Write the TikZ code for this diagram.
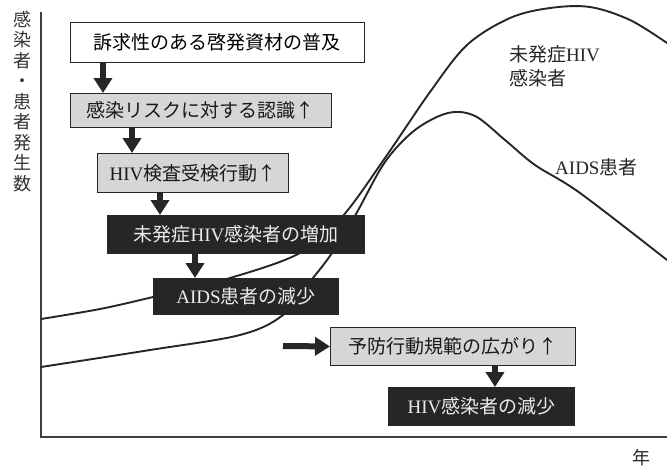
\documentclass[tikz,border=0pt]{standalone}
\usepackage{fontspec}
\setmainfont{Liberation Serif}
\newfontfamily\jp{Noto Sans CJK JP}
\usetikzlibrary{arrows.meta}
\tikzset{
  curve/.style={line width=1.9pt, black!85, line join=round, line cap=round},
  axisline/.style={line width=1.3pt, black!75},
  boxbase/.style={draw=black!85, line width=0.9pt, inner sep=0pt, anchor=north west,
    font=\fontsize{19}{21}\selectfont},
  wbox/.style={boxbase, fill=white, text=black},
  gbox/.style={boxbase, fill=black!16, text=black!90},
  kbox/.style={boxbase, fill=black!85, draw=black!85, text=black!8},
  barrow/.style={line width=6pt, black!85, -{Triangle[width=18pt,length=15pt]}},
  lbl/.style={font=\fontsize{19}{24}\selectfont, text=black!85, inner sep=0pt},
}
\begin{document}
\begin{tikzpicture}[x=1pt,y=-1pt]
\useasboundingbox (0,0) rectangle (667,469);
% axes
\coordinate (ytop) at (41,12);
\coordinate (orig) at (41,437);
\coordinate (xend) at (667,437);
\draw[axisline] (ytop) -- (orig) -- (xend);
\node[font=\fontsize{18}{20.5}\selectfont, text=black!80, align=center, anchor=north, inner sep=0pt] (ylab) at (22,11)
  {\jp 感\\\jp 染\\\jp 者\\\jp ・\\\jp 患\\\jp 者\\\jp 発\\\jp 生\\\jp 数};
\node[lbl, font=\fontsize{18}{20}\selectfont] (xlab) at (641,458) {\jp 年};
% curves
\draw[curve] plot[smooth, tension=0.55] coordinates {(41,319) (100,309) (153,297) (230,278) (300,253) (342,217) (385,158) (430,92) (467,45) (510,18) (550,8) (590,7) (630,20) (667,43)};
\draw[curve] plot[smooth, tension=0.55] coordinates {(41,367) (150,350) (240,335) (283,315) (313,278) (332,253) (356,214) (385,162) (415,130) (448,113) (475,116) (505,140) (535,165) (580,193) (667,260)};
% curve labels
\node[lbl, anchor=west] (lhiv1) at (509,54) {{\jp 未発症}HIV};
\node[lbl, anchor=west] (lhiv2) at (509,78) {\jp 感染者};
\node[lbl, anchor=west] (laids) at (555,167) {AIDS{\jp 患者}};
% boxes
\node[wbox, minimum width=294pt, minimum height=40pt] (b1) at (70,22) {\jp 訴求性のある啓発資材の普及};
\node[gbox, minimum width=261pt, minimum height=34pt] (b2) at (70,93) {\jp 感染リスクに対する認識↑};
\node[gbox, minimum width=191pt, minimum height=39pt] (b3) at (97,153) {HIV{\jp 検査受検行動↑}};
\node[kbox, minimum width=257pt, minimum height=38pt] (b4) at (107,215) {{\jp 未発症}HIV{\jp 感染者の増加}};
\node[kbox, minimum width=185pt, minimum height=36pt] (b5) at (153,278) {AIDS{\jp 患者の減少}};
\node[gbox, minimum width=245pt, minimum height=38pt] (b6) at (330,327) {\jp 予防行動規範の広がり↑};
\node[kbox, minimum width=186pt, minimum height=38pt] (b7) at (388,387) {HIV{\jp 感染者の減少}};
% arrows
\coordinate (a5s) at (283,346);
\draw[barrow] ([xshift=33pt]b1.south west) -- ([xshift=33pt]b2.north west);
\draw[barrow] ([xshift=62pt]b2.south west) -- ([xshift=35pt]b3.north west);
\draw[barrow] ([xshift=63pt]b3.south west) -- ([xshift=53pt]b4.north west);
\draw[barrow] ([xshift=88pt]b4.south west) -- ([xshift=42pt]b5.north west);
\draw[barrow] (a5s) -- (b6.west);
\draw[barrow] ([xshift=165pt]b6.south west) -- ([xshift=107pt]b7.north west);
\end{tikzpicture}
\end{document}
